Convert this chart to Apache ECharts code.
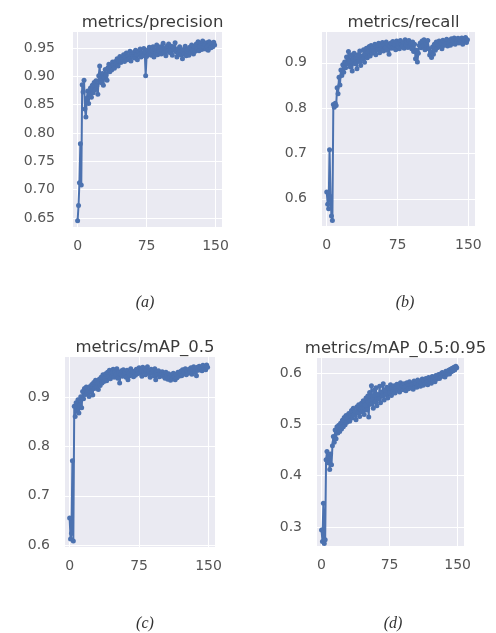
<!DOCTYPE html>
<html>
<head>
<meta charset="utf-8">
<script src="https://cdn.jsdelivr.net/npm/echarts@6/dist/echarts.min.js"></script>
<style>
  html, body { margin: 0; padding: 0; background: #fff; }
  #main { width: 496px; height: 633px; }
</style>
</head>
<body>
<div id="main"></div>
<script>
// epochs 0..149
var precision = [
  0.645, 0.672, 0.712, 0.781, 0.708, 0.885, 0.872, 0.893, 0.842, 0.828,
  0.861, 0.874, 0.852, 0.868, 0.879, 0.863, 0.884, 0.871, 0.889, 0.876,
  0.892, 0.883, 0.868, 0.901, 0.918, 0.889, 0.897, 0.905, 0.884, 0.898,
  0.912, 0.902, 0.893, 0.915, 0.921, 0.908, 0.917, 0.911, 0.925, 0.919,
  0.914, 0.926, 0.921, 0.931, 0.918, 0.927, 0.935, 0.924, 0.932, 0.929,
  0.938, 0.926, 0.933, 0.941, 0.929, 0.936, 0.931, 0.944, 0.927, 0.939,
  0.935, 0.942, 0.932, 0.946, 0.938, 0.929, 0.944, 0.937, 0.948, 0.934,
  0.941, 0.936, 0.949, 0.943, 0.901, 0.935, 0.946, 0.939, 0.951, 0.942,
  0.937, 0.945, 0.952, 0.934, 0.947, 0.941, 0.955, 0.938, 0.949, 0.944,
  0.952, 0.939, 0.946, 0.958, 0.941, 0.949, 0.936, 0.953, 0.944, 0.957,
  0.942, 0.948, 0.953, 0.937, 0.951, 0.946, 0.959, 0.943, 0.934, 0.948,
  0.941, 0.952, 0.938, 0.945, 0.931, 0.947, 0.939, 0.953, 0.936, 0.944,
  0.948, 0.937, 0.951, 0.942, 0.955, 0.946, 0.939, 0.952, 0.944, 0.957,
  0.949, 0.961, 0.945, 0.953, 0.958, 0.947, 0.962, 0.951, 0.956, 0.948,
  0.959, 0.953, 0.946, 0.961, 0.955, 0.950, 0.958, 0.952, 0.960, 0.955
];
var recall = [
  0.615, 0.588, 0.578, 0.708, 0.605, 0.562, 0.552, 0.808, 0.802, 0.811,
  0.806, 0.845, 0.832, 0.868, 0.851, 0.884, 0.872, 0.896, 0.879, 0.902,
  0.889, 0.913, 0.898, 0.925, 0.904, 0.891, 0.917, 0.882, 0.909, 0.921,
  0.898, 0.912, 0.887, 0.918, 0.903, 0.926, 0.894, 0.915, 0.908, 0.929,
  0.901, 0.919, 0.932, 0.911, 0.924, 0.936, 0.915, 0.938, 0.921, 0.934,
  0.927, 0.941, 0.918, 0.935, 0.929, 0.943, 0.922, 0.938, 0.931, 0.945,
  0.926, 0.939, 0.933, 0.946, 0.928, 0.941, 0.919, 0.937, 0.944, 0.932,
  0.947, 0.935, 0.941, 0.929, 0.948, 0.938, 0.944, 0.931, 0.949, 0.940,
  0.936, 0.945, 0.932, 0.951, 0.939, 0.946, 0.934, 0.949, 0.937, 0.943,
  0.931, 0.946, 0.925, 0.941, 0.909, 0.928, 0.902, 0.921, 0.938, 0.944,
  0.933, 0.948, 0.937, 0.951, 0.929, 0.943, 0.936, 0.949, 0.931, 0.917,
  0.924, 0.912, 0.935, 0.919, 0.941, 0.928, 0.946, 0.933, 0.939, 0.948,
  0.936, 0.944, 0.931, 0.950, 0.938, 0.946, 0.941, 0.952, 0.937, 0.945,
  0.949, 0.939, 0.953, 0.943, 0.948, 0.955, 0.941, 0.951, 0.946, 0.954,
  0.944, 0.952, 0.947, 0.955, 0.941, 0.953, 0.949, 0.956, 0.945, 0.951
];
var map50 = [
  0.655, 0.612, 0.624, 0.771, 0.608, 0.882, 0.861, 0.889, 0.872, 0.895,
  0.868, 0.884, 0.901, 0.879, 0.912, 0.897, 0.918, 0.906, 0.921, 0.909,
  0.914, 0.902, 0.922, 0.911, 0.926, 0.905, 0.930, 0.918, 0.935, 0.921,
  0.928, 0.916, 0.937, 0.924, 0.941, 0.929, 0.946, 0.932, 0.939, 0.948,
  0.934, 0.951, 0.942, 0.955, 0.938, 0.949, 0.944, 0.957, 0.941, 0.952,
  0.946, 0.958, 0.939, 0.951, 0.929, 0.947, 0.954, 0.943, 0.956, 0.948,
  0.952, 0.941, 0.955, 0.936, 0.949, 0.944, 0.958, 0.947, 0.953, 0.942,
  0.951, 0.945, 0.957, 0.948, 0.954, 0.960, 0.949, 0.956, 0.943, 0.961,
  0.952, 0.958, 0.946, 0.955, 0.962, 0.949, 0.953, 0.941, 0.957, 0.950,
  0.955, 0.944, 0.958, 0.936, 0.951, 0.947, 0.954, 0.942, 0.949, 0.946,
  0.952, 0.943, 0.947, 0.939, 0.951, 0.944, 0.937, 0.948, 0.941, 0.935,
  0.945, 0.938, 0.949, 0.942, 0.936, 0.947, 0.940, 0.951, 0.943, 0.948,
  0.953, 0.944, 0.956, 0.948, 0.951, 0.958, 0.946, 0.954, 0.949, 0.957,
  0.952, 0.960, 0.947, 0.956, 0.962, 0.951, 0.958, 0.944, 0.961, 0.955,
  0.963, 0.957, 0.960, 0.954, 0.965, 0.959, 0.962, 0.956, 0.966, 0.961
];
var map5095 = [
  0.294, 0.272, 0.346, 0.268, 0.275, 0.431, 0.447, 0.425, 0.438, 0.412,
  0.442, 0.421, 0.458, 0.476, 0.465, 0.489, 0.472, 0.495, 0.483, 0.498,
  0.486, 0.502, 0.491, 0.508, 0.495, 0.513, 0.499, 0.517, 0.504, 0.511,
  0.521, 0.506, 0.516, 0.527, 0.512, 0.531, 0.518, 0.525, 0.509, 0.534,
  0.522, 0.538, 0.515, 0.529, 0.541, 0.524, 0.546, 0.519, 0.537, 0.551,
  0.528, 0.555, 0.514, 0.562, 0.539, 0.575, 0.548, 0.531, 0.566, 0.544,
  0.571, 0.536, 0.558, 0.549, 0.574, 0.542, 0.563, 0.555, 0.579, 0.547,
  0.566, 0.558, 0.572, 0.551, 0.569, 0.562, 0.577, 0.556, 0.571, 0.564,
  0.575, 0.561, 0.569, 0.578, 0.566, 0.574, 0.563, 0.581, 0.569, 0.576,
  0.567, 0.579, 0.572, 0.565, 0.581, 0.574, 0.569, 0.583, 0.576, 0.571,
  0.578, 0.568, 0.584, 0.575, 0.580, 0.572, 0.586, 0.577, 0.583, 0.574,
  0.581, 0.588, 0.576, 0.585, 0.579, 0.589, 0.582, 0.577, 0.591, 0.584,
  0.587, 0.580, 0.593, 0.586, 0.590, 0.583, 0.595, 0.588, 0.592, 0.597,
  0.589, 0.598, 0.593, 0.601, 0.595, 0.599, 0.592, 0.603, 0.597, 0.601,
  0.605, 0.598, 0.607, 0.602, 0.609, 0.604, 0.611, 0.606, 0.613, 0.610
];

var titles = ['metrics/precision', 'metrics/recall', 'metrics/mAP_0.5', 'metrics/mAP_0.5:0.95'];
var captions = ['(a)', '(b)', '(c)', '(d)'];
var xTicks = [0, 75, 150];
var yTicksA = [0.65, 0.70, 0.75, 0.80, 0.85, 0.90, 0.95];
var yTicksB = [0.6, 0.7, 0.8, 0.9];
var yTicksC = [0.6, 0.7, 0.8, 0.9];
var yTicksD = [0.3, 0.4, 0.5, 0.6];

var myChart = echarts.init(document.getElementById('main'));

var grids = [
  { left: 73, top: 32, width: 149, height: 195 },
  { left: 322, top: 32, width: 153, height: 194 },
  { left: 65, top: 357, width: 150, height: 190 },
  { left: 317, top: 358, width: 147, height: 188 }
];
var yRanges = [[0.634, 0.978], [0.540, 0.968], [0.596, 0.982], [0.263, 0.629]];
var yTicks = [yTicksA, yTicksB, yTicksC, yTicksD];
var yDigits = [2, 1, 1, 1];
var yMargins = [18, 15, 15, 15];
var seriesData = [precision, recall, map50, map5095];
var captionPos = [[140, 290], [400, 290], [140, 611], [388, 611]];

var option = {
  animation: false,
  title: [],
  grid: [],
  xAxis: [],
  yAxis: [],
  series: []
};

for (var i = 0; i < 4; i++) {
  var g = grids[i];
  option.grid.push({
    left: g.left, top: g.top, width: g.width, height: g.height,
    show: true, backgroundColor: '#EAEAF2', borderWidth: 0
  });
  option.title.push({
    text: titles[i],
    left: g.left + g.width / 2, top: g.top - 23, textAlign: 'center',
    textStyle: { fontFamily: 'DejaVu Sans', fontSize: 16.5, fontWeight: 'normal', color: '#3a3a3a' }
  });
  option.title.push({
    text: captions[i],
    left: captionPos[i][0], top: captionPos[i][1], textAlign: 'center',
    textStyle: { fontFamily: 'Liberation Serif', fontSize: 16, fontStyle: 'italic', fontWeight: 'normal', color: '#333' }
  });
  option.xAxis.push({
    type: 'value', gridIndex: i, min: -5, max: 157,
    axisLine: { show: false },
    axisTick: { show: false, customValues: xTicks },
    axisLabel: { customValues: xTicks, margin: 12, color: '#555', fontFamily: 'DejaVu Sans', fontSize: 14 },
    splitLine: { show: true, lineStyle: { color: '#fff', width: 1 } }
  });
  (function (d) {
    option.yAxis.push({
      type: 'value', gridIndex: i, min: yRanges[i][0], max: yRanges[i][1],
      axisLine: { show: false },
      axisTick: { show: false, customValues: yTicks[i] },
      axisLabel: {
        customValues: yTicks[i], margin: yMargins[i], color: '#555', fontFamily: 'DejaVu Sans', fontSize: 14,
        formatter: function (v) { return v.toFixed(d); }
      },
      splitLine: { show: true, lineStyle: { color: '#fff', width: 1 } }
    });
  })(yDigits[i]);
  option.series.push({
    type: 'line', xAxisIndex: i, yAxisIndex: i,
    data: seriesData[i].map(function (v, k) { return [k, v]; }),
    symbol: 'circle', symbolSize: 5, showAllSymbol: true,
    lineStyle: { color: '#4C72B0', width: 2 },
    itemStyle: { color: '#4C72B0' }
  });
}

myChart.setOption(option);
</script>
</body>
</html>
